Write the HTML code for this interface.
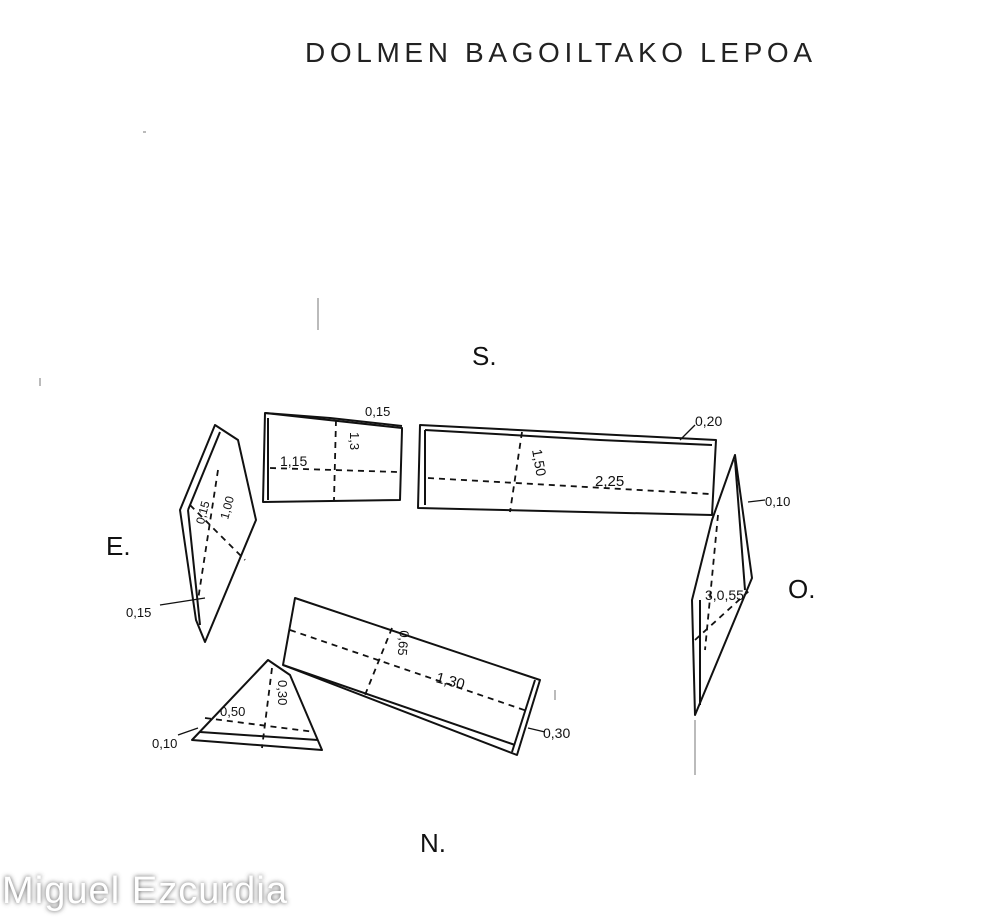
<!DOCTYPE html>
<html><head><meta charset="utf-8">
<style>
html,body{margin:0;padding:0;background:#fff;}
svg{display:block;}
text{font-family:"Liberation Sans",sans-serif;fill:#111;}
.s{fill:none;stroke:#111;stroke-width:2;stroke-linejoin:round;}
.d{fill:none;stroke:#111;stroke-width:1.8;stroke-dasharray:6 5;}
.t{fill:none;stroke:#111;stroke-width:1.3;}
.m{fill:none;stroke:#777;stroke-width:1;}
</style></head>
<body>
<svg width="1000" height="917" viewBox="0 0 1000 917">
<defs><filter id="sh" x="-10%" y="-30%" width="120%" height="160%"><feGaussianBlur stdDeviation="2.5"/></filter></defs>
<text x="305" y="62" font-size="28" letter-spacing="3" textLength="510" style="fill:#222">DOLMEN  BAGOILTAKO  LEPOA</text>

<text x="472" y="365" font-size="26">S.</text>
<text x="106" y="555" font-size="26">E.</text>
<text x="788" y="598" font-size="26">O.</text>
<text x="420" y="852" font-size="26">N.</text>

<g class="m">
<line x1="318" y1="298" x2="318" y2="330"/><line x1="143" y1="132" x2="146" y2="132"/>
<line x1="40" y1="378" x2="40" y2="386"/><line x1="695" y1="720" x2="695" y2="775"/>
<line x1="555" y1="690" x2="555" y2="700"/>
</g>

<g>
<polygon class="s" points="265,413 402,428 402,430 400,500 263,502"/>
<line class="s" x1="268" y1="418" x2="268" y2="500"/>
<polyline class="s" points="265,413 330,418 402,426"/>
<line class="d" x1="270" y1="468" x2="398" y2="472"/>
<line class="d" x1="336" y1="420" x2="334" y2="500"/>
<text x="280" y="466" font-size="14">1,15</text>
<text x="350" y="432" font-size="13" transform="rotate(90 350 432)">1,3</text>
<text x="365" y="416" font-size="13">0,15</text>
</g>

<g>
<polygon class="s" points="420,425 716,440 712,515 418,508"/>
<polyline class="s" points="425,430 600,440 712,445"/>
<line class="s" x1="425" y1="430" x2="425" y2="505"/>
<line class="d" x1="428" y1="478" x2="710" y2="494"/>
<line class="d" x1="522" y1="432" x2="510" y2="512"/>
<text x="532" y="450" font-size="14" transform="rotate(80 532 450)">1,50</text>
<text x="595" y="486" font-size="15">2,25</text>
<line class="t" x1="680" y1="440" x2="695" y2="425"/>
<text x="695" y="426" font-size="14">0,20</text>
</g>

<g>
<polygon class="s" points="215,425 238,440 256,520 205,642 196,620 180,510"/>
<line class="s" x1="220" y1="432" x2="188" y2="510"/>
<line class="s" x1="188" y1="510" x2="200" y2="625"/>
<line class="d" x1="218" y1="470" x2="198" y2="600"/>
<line class="d" x1="190" y1="505" x2="245" y2="560"/>
<text x="200" y="520" font-size="12" transform="rotate(-75 205 520)">0,15</text>
<text x="228" y="520" font-size="12" transform="rotate(-75 228 520)">1,00</text>
<line class="t" x1="160" y1="605" x2="205" y2="598"/>
<text x="126" y="617" font-size="13">0,15</text>
</g>

<g>
<polygon class="s" points="735,455 752,578 695,715 692,600 712,520"/>
<line class="s" x1="735" y1="460" x2="745" y2="590"/>
<line class="s" x1="700" y1="600" x2="700" y2="705"/>
<line class="d" x1="718" y1="515" x2="705" y2="650"/>
<line class="d" x1="695" y1="640" x2="750" y2="590"/>
<text x="705" y="600" font-size="14">3,0,55</text>
<line class="t" x1="748" y1="502" x2="765" y2="500"/>
<text x="765" y="506" font-size="13">0,10</text>
</g>

<g>
<polygon class="s" points="295,598 540,680 517,755 283,665"/>
<line class="s" x1="283" y1="665" x2="515" y2="745"/>
<line class="s" x1="535" y1="680" x2="512" y2="752"/>
<line class="d" x1="290" y1="630" x2="530" y2="712"/>
<line class="d" x1="392" y1="628" x2="365" y2="695"/>
<text x="400" y="630" font-size="13" transform="rotate(95 400 630)">0,65</text>
<text x="435" y="682" font-size="15" transform="rotate(15 435 682)">1,30</text>
<line class="t" x1="528" y1="728" x2="545" y2="732"/>
<text x="543" y="738" font-size="14">0,30</text>
</g>

<g>
<polygon class="s" points="192,740 268,660 290,675 322,750"/>
<line class="s" x1="200" y1="732" x2="318" y2="740"/>
<line class="d" x1="205" y1="718" x2="315" y2="732"/>
<line class="d" x1="272" y1="668" x2="262" y2="748"/>
<text x="220" y="716" font-size="13">0,50</text>
<text x="278" y="680" font-size="13" transform="rotate(90 278 680)">0,30</text>
<line class="t" x1="178" y1="735" x2="198" y2="728"/>
<text x="152" y="748" font-size="13">0,10</text>
</g>

<g>
<text x="2" y="903" font-size="38" textLength="285" style="fill:#555" filter="url(#sh)">Miguel Ezcurdia</text>
<text x="2" y="903" font-size="38" textLength="285" style="fill:#fff">Miguel Ezcurdia</text>
</g>
</svg>
</body></html>
